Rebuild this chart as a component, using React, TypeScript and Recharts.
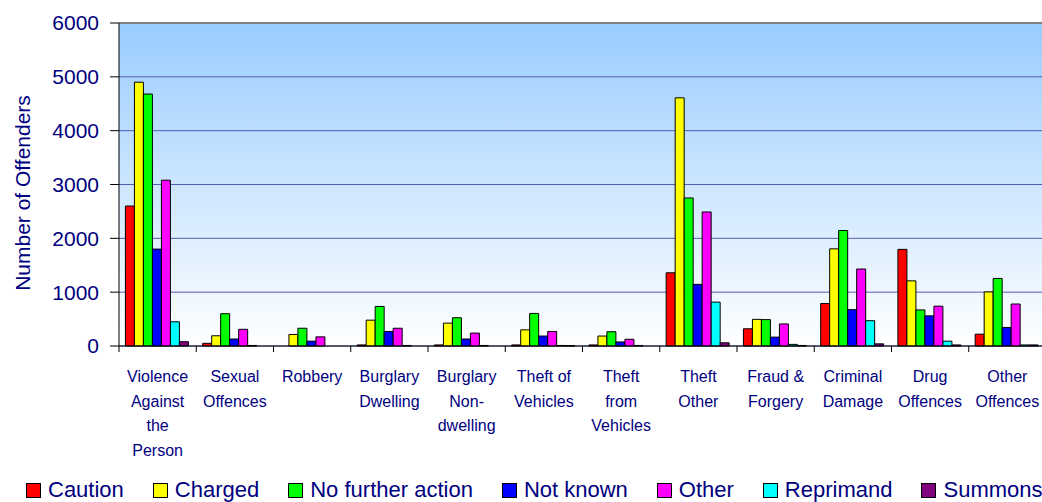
import React from "react";
import { BarChart, Bar, XAxis, YAxis, CartesianGrid, Legend, ReferenceLine } from "recharts";

const categories = [
  "Violence Against the Person",
  "Sexual Offences",
  "Robbery",
  "Burglary Dwelling",
  "Burglary Non-dwelling",
  "Theft of Vehicles",
  "Theft from Vehicles",
  "Theft Other",
  "Fraud & Forgery",
  "Criminal Damage",
  "Drug Offences",
  "Other Offences",
];

const caution = [2600, 50, 0, 20, 20, 20, 20, 1360, 320, 790, 1795, 220];
const charged = [4900, 190, 215, 480, 425, 300, 185, 4610, 495, 1805, 1210, 1005];
const noFurtherAction = [4680, 600, 330, 735, 525, 605, 265, 2750, 490, 2145, 670, 1255];
const notKnown = [1800, 130, 90, 270, 130, 185, 75, 1145, 165, 675, 560, 345];
const other = [3080, 310, 170, 330, 240, 270, 125, 2490, 410, 1430, 740, 780];
const reprimand = [450, 10, 0, 10, 10, 10, 10, 815, 30, 470, 90, 20];
const summons = [80, 0, 0, 0, 0, 5, 0, 60, 10, 40, 20, 20];

const yTicks = [0, 1000, 2000, 3000, 4000, 5000, 6000];

const seriesKeys = ["caution", "charged", "nfa", "notKnown", "other", "reprimand", "summons"];
const seriesNames = ["Caution", "Charged", "No further action", "Not known", "Other", "Reprimand", "Summons"];
const seriesColors = ["#FF0000", "#FFFF00", "#00FF00", "#0000FF", "#FF00FF", "#00FFFF", "#800080"];
const seriesValues = [caution, charged, noFurtherAction, notKnown, other, reprimand, summons];

const data = categories.map((c, i) => {
  const row: Record<string, any> = { category: c };
  seriesKeys.forEach((k, s) => {
    row[k] = seriesValues[s][i];
  });
  return row;
});

const NAVY = "#000080";
const FONT = '"Liberation Sans", Arial, sans-serif';

let measureCtx: CanvasRenderingContext2D | null = null;
function measure(text: string, font: string): number {
  if (!measureCtx) {
    const c = document.createElement("canvas");
    measureCtx = c.getContext("2d");
  }
  if (!measureCtx) return text.length * 8;
  measureCtx.font = font;
  return measureCtx.measureText(text).width;
}

function wrapLabel(label: string, maxWidth: number): string[] {
  const font = '16px "Liberation Sans"';
  const tokens: { t: string; sep: string }[] = [];
  label.split(" ").forEach((w, wi) => {
    const parts = w.split(/(?<=-)/);
    parts.forEach((p, pi) => {
      tokens.push({ t: p, sep: pi === 0 && wi > 0 ? " " : "" });
    });
  });
  const lines: string[] = [];
  let cur = "";
  tokens.forEach((tk) => {
    if (cur === "") {
      cur = tk.t;
    } else {
      const trial = cur + tk.sep + tk.t;
      if (measure(trial, font) <= maxWidth) cur = trial;
      else {
        lines.push(cur);
        cur = tk.t;
      }
    }
  });
  if (cur) lines.push(cur);
  return lines;
}

const CategoryTick = (props: any) => {
  const { x, y, payload, index } = props;
  const count = props.visibleTicksCount || categories.length;
  const axisWidth = props.width || 927;
  const bw = axisWidth / count;
  const axisY = y - 8;
  const lines = wrapLabel(String(payload.value), 70);
  return (
    <g>
      <line x1={x - bw / 2} x2={x - bw / 2} y1={axisY} y2={axisY + 6} stroke="#000" strokeWidth={1} />
      {index === count - 1 && (
        <line x1={x + bw / 2} x2={x + bw / 2} y1={axisY} y2={axisY + 6} stroke="#000" strokeWidth={1} />
      )}
      <text x={x} y={y + 28} textAnchor="middle" fill={NAVY} fontSize={16} fontFamily={FONT}>
        {lines.map((l, i) => (
          <tspan key={i} x={x} dy={i === 0 ? 0 : 24.7}>
            {l}
          </tspan>
        ))}
      </text>
    </g>
  );
};

const LegendContent = () => (
  <div
    style={{
      display: "flex",
      alignItems: "center",
      height: 24,
      paddingLeft: 26,
      fontFamily: FONT,
      fontSize: 22,
      color: NAVY,
      whiteSpace: "nowrap",
    }}
  >
    {seriesNames.map((n, i) => (
      <div key={n} style={{ display: "flex", alignItems: "center", marginRight: 29 }}>
        <span
          style={{
            display: "inline-block",
            width: 13,
            height: 13,
            background: seriesColors[i],
            border: "1px solid #000",
            marginRight: 7,
          }}
        />
        <span style={{ lineHeight: "24px" }}>{n}</span>
      </div>
    ))}
  </div>
);

export default function App() {
  return (
    <div
      style={{
        position: "fixed",
        top: 0,
        left: 0,
        width: 1042,
        height: 502,
        overflow: "hidden",
        background: "#fff",
      }}
    >
      <BarChart
        width={1053}
        height={502}
        data={data}
        margin={{ top: 23, right: 7, left: 0, bottom: 0 }}
        barCategoryGap="8.3%"
        barGap={0}
      >
        <defs>
          <linearGradient id="plotBg" x1="0" y1="0" x2="0" y2="1">
            <stop offset="0%" stopColor="#99CCFF" />
            <stop offset="100%" stopColor="#FFFFFF" />
          </linearGradient>
        </defs>
        <CartesianGrid vertical={false} stroke="#5a5ab0" strokeWidth={1} fill="url(#plotBg)" />
        <ReferenceLine y={6000} stroke="#808080" strokeWidth={2} />
        <XAxis
          dataKey="category"
          interval={0}
          height={132}
          tickLine={false}
          axisLine={{ stroke: "#000", strokeWidth: 1 }}
          tick={<CategoryTick />}
        />
        <YAxis
          width={119}
          domain={[0, 6000]}
          ticks={yTicks}
          tickSize={9}
          tickMargin={11}
          axisLine={{ stroke: "#000", strokeWidth: 1 }}
          tickLine={{ stroke: "#000", strokeWidth: 1 }}
          tick={{ fill: NAVY, fontSize: 21, fontFamily: FONT }}
          label={{
            content: () => (
              <text
                x={22}
                y={193}
                transform="rotate(-90 22 193)"
                textAnchor="middle"
                dominantBaseline="central"
                fill={NAVY}
                fontSize={21}
                fontFamily={FONT}
              >
                Number of Offenders
              </text>
            ),
          }}
        />
        <Legend verticalAlign="bottom" content={<LegendContent />} />
        {seriesKeys.map((k, i) => (
          <Bar
            key={k}
            dataKey={k}
            name={seriesNames[i]}
            fill={seriesColors[i]}
            stroke="#000"
            strokeWidth={1}
            isAnimationActive={false}
          />
        ))}
      </BarChart>
    </div>
  );
}
